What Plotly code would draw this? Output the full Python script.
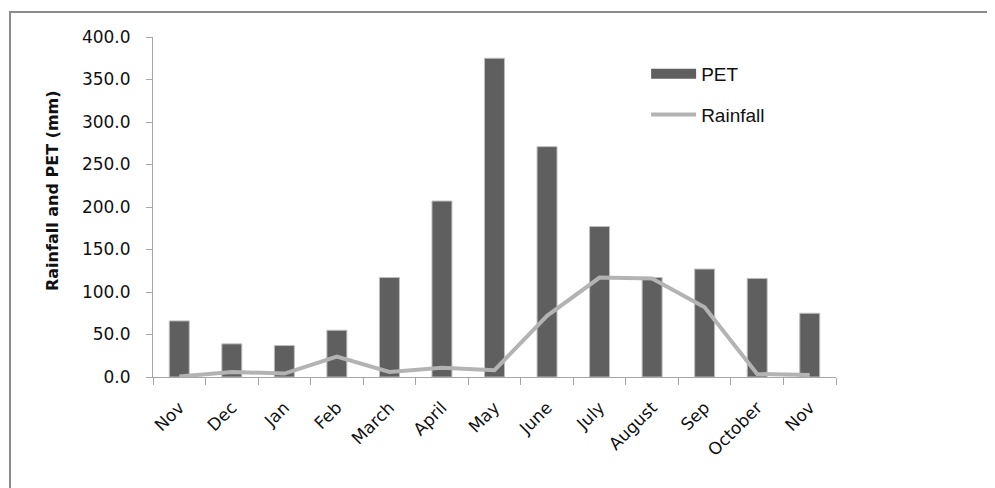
import plotly.graph_objects as go

months = ["Nov", "Dec", "Jan", "Feb", "March", "April", "May", "June",
          "July", "August", "Sep", "October", "Nov"]
pet = [66, 39, 37, 55, 117, 207, 375, 271, 177, 117, 127, 116, 75]
rainfall = [0.5, 6, 4, 24, 6, 11, 8, 72, 117, 116, 82, 3.5, 2.5]
y_ticks = [0, 50, 100, 150, 200, 250, 300, 350, 400]

x_pos = list(range(len(months)))
axis_col = "#A6A6A6"
bar_col = "#5F5F5F"
line_col = "#B3B3B3"
font_main = "DejaVu Sans"

# page body has an 8px margin; compensate
OFF = 8
L, T, PW, PH = 153 - OFF, 37 - OFF, 683, 340
W, H = 995 - OFF, 488 - OFF

fig = go.Figure()
fig.add_trace(go.Bar(
    x=x_pos, y=pet, name="PET", width=0.38,
    marker=dict(color=bar_col, line=dict(color="#BDBDBD", width=1)),
    showlegend=False,
))
# legend entry for PET drawn as a wide block
fig.add_trace(go.Scatter(
    x=[None], y=[None], name="PET", mode="lines",
    line=dict(color=bar_col, width=11), legendgroup="a",
))
fig.add_trace(go.Scatter(
    x=x_pos, y=rainfall, name="Rainfall", mode="lines",
    line=dict(color=line_col, width=4), legendgroup="b",
))

fig.update_layout(
    width=W, height=H,
    margin=dict(l=L, r=W - L - PW, t=T, b=H - T - PH),
    paper_bgcolor="white", plot_bgcolor="white",
    font=dict(family=font_main, size=17, color="#111111"),
    showlegend=True,
    legend=dict(
        x=0.722, y=0.947, xanchor="left", yanchor="top",
        font=dict(family="Liberation Sans", size=19, color="#111111"),
        traceorder="grouped", tracegroupgap=13,
        itemwidth=45, bgcolor="rgba(0,0,0,0)",
    ),
    xaxis=dict(
        range=[-0.5, len(months) - 0.5],
        tickvals=x_pos, ticktext=months, tickangle=-45,
        ticks="", showline=True, linecolor=axis_col, linewidth=1,
        showgrid=False, zeroline=False,
        ticklabelstandoff=13,
        tickfont=dict(family=font_main, size=17),
        minor=dict(tickvals=[i - 0.5 for i in range(len(months) + 1)],
                   ticks="outside", ticklen=7, tickcolor=axis_col, showgrid=False),
    ),
    yaxis=dict(
        range=[0, 400], tickvals=y_ticks, tickformat=".1f",
        ticks="outside", ticklen=6, tickcolor=axis_col,
        showline=True, linecolor=axis_col, linewidth=1,
        showgrid=False, zeroline=False,
        ticklabelstandoff=12,
        tickfont=dict(family=font_main, size=17),
    ),
    annotations=[dict(
        text="<b>Rainfall and PET (mm)</b>", textangle=-90,
        xref="paper", yref="paper",
        x=(53 - 153) / PW, y=(377 - 191) / PH,
        xanchor="center", yanchor="middle", showarrow=False,
        font=dict(family=font_main, size=16, color="#111111"),
    )],
    shapes=[dict(type="rect", xref="paper", yref="paper",
                 x0=(10 - 153) / PW, x1=(1100 - 153) / PW,
                 y0=(377 - 600) / PH, y1=(377 - 12) / PH,
                 line=dict(color="#8C8C8C", width=2), layer="below")],
)

fig.write_html("out.html")
